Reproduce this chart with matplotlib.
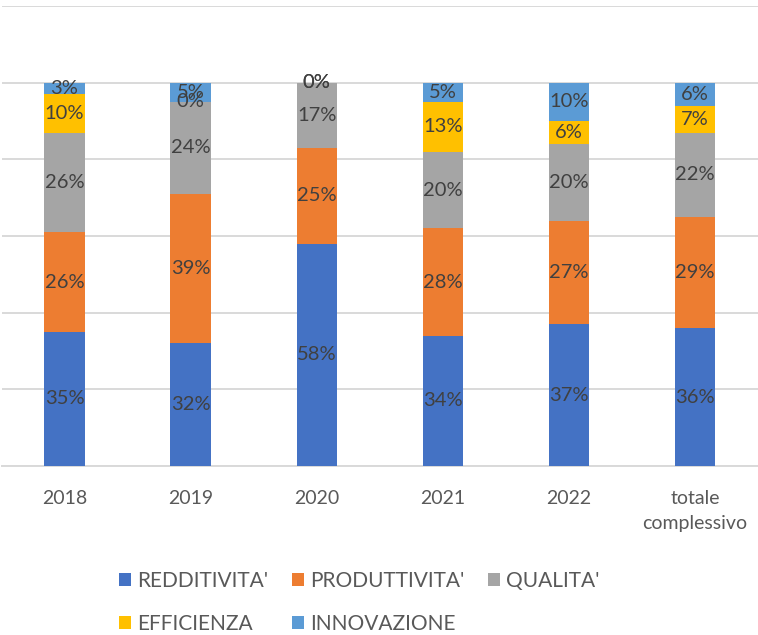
import matplotlib
matplotlib.use('Agg')
import matplotlib.pyplot as plt
import numpy as np

categories = ['2018', '2019', '2020', '2021', '2022', 'totale\ncomplessivo']
series_names = ["REDDITIVITA'", "PRODUTTIVITA'", "QUALITA'", "EFFICIENZA", "INNOVAZIONE"]
redditivita = [35, 32, 58, 34, 37, 36]
produttivita = [26, 39, 25, 28, 27, 29]
qualita = [26, 24, 17, 20, 20, 22]
efficienza = [10, 0, 0, 13, 6, 7]
innovazione = [3, 5, 0, 5, 10, 6]

colors = ['#4472C4', '#ED7D31', '#A5A5A5', '#FFC000', '#5B9BD5']

plt.rcParams['font.family'] = ['Lato', 'DejaVu Sans']

fig = plt.figure(figsize=(7.58, 6.35), dpi=100)
ax = fig.add_axes([0.002, 0.266, 0.998, 0.7246])

x = np.arange(len(categories))
data = [redditivita, produttivita, qualita, efficienza, innovazione]
bottom = np.zeros(len(categories))
handles = []
for vals, name, col in zip(data, series_names, colors):
    vals = np.array(vals) / 100.0
    b = ax.bar(x, vals, 0.32, bottom=bottom, color=col, label=name, zorder=3)
    handles.append(b)
    for xi, v, bt in zip(x, vals, bottom):
        ax.text(xi, bt + v / 2, '%d%%' % round(v * 100), ha='center', va='center',
                fontsize=14.5, color='#404040', zorder=4)
    bottom += vals

ax.set_xlim(-0.5, len(categories) - 0.5)
ax.set_ylim(0, 1.2)
ax.set_yticks(np.arange(0, 1.21, 0.2))
ax.yaxis.grid(True, color='#D9D9D9', linewidth=1.4, zorder=0)
ax.tick_params(axis='y', left=False, labelleft=False)
ax.tick_params(axis='x', bottom=False, labelsize=14, labelcolor='#595959', pad=14)
ax.set_xticks(x)
ax.set_xticklabels(categories, linespacing=1.55)
for s in ['top', 'right', 'left']:
    ax.spines[s].set_visible(False)
ax.spines['bottom'].set_color('#D9D9D9')
ax.spines['bottom'].set_linewidth(1.4)

# reorder so rows read left to right like the original
order = [0, 3, 1, 4, 2]
leg = fig.legend([handles[i] for i in order], [series_names[i] for i in order],
                 ncol=3, loc='upper left', bbox_to_anchor=(0.132, 0.13),
                 frameon=False, fontsize=15, handlelength=0.6, handleheight=0.6,
                 handletextpad=0.3, columnspacing=1.1, labelspacing=1.1)
for t in leg.get_texts():
    t.set_color('#595959')

fig.savefig('out.png', dpi=100)
